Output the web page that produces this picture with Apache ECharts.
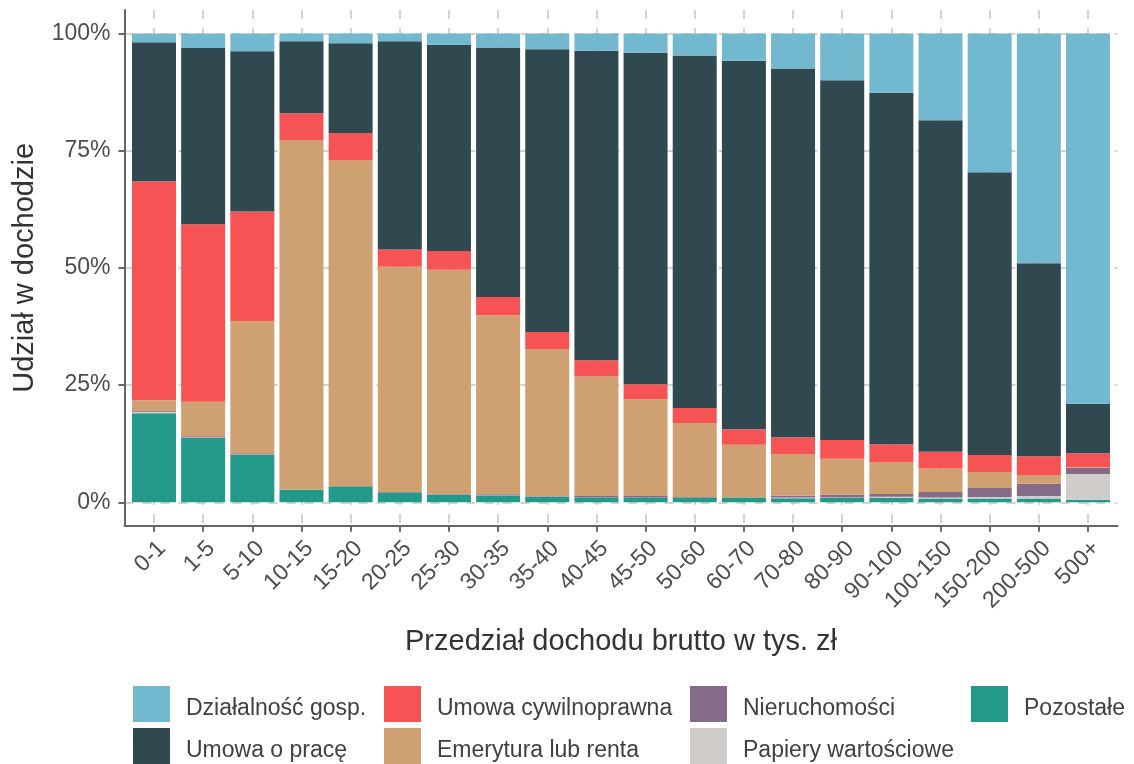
<!DOCTYPE html>
<html>
<head>
<meta charset="utf-8">
<script src="https://cdn.jsdelivr.net/npm/echarts@6/dist/echarts.min.js"></script>
<style>
html,body{margin:0;padding:0;background:#fff;}
#chart{width:1134px;height:764px;}
</style>
</head>
<body>
<div id="chart"></div>
<script>
const categories = ['0-1','1-5','5-10','10-15','15-20','20-25','25-30','30-35','35-40','40-45','45-50','50-60','60-70','70-80','80-90','90-100','100-150','150-200','200-500','500+'];
const yTickValues = [0, 25, 50, 75, 100];

const dzialalnosc   = [1.9,3.1,3.8,1.65,2.1,1.65,2.4,3.0,3.35,3.7,4.1,4.7,5.85,7.5,10.0,12.65,18.5,29.6,49.0,79.0];
const umowaOPrace   = [29.6,37.6,34.2,15.35,19.15,44.45,44.0,53.2,60.35,66.0,70.7,75.2,78.55,78.6,76.7,74.95,70.7,60.3,41.2,10.55];
const cywilnoprawna = [46.75,37.85,23.35,5.75,5.85,3.65,4.0,3.9,3.6,3.45,3.2,3.2,3.3,3.6,4.0,3.8,3.6,3.65,4.0,2.95];
const emerytura     = [2.25,7.35,28.2,74.5,69.45,48.05,47.9,38.2,31.4,25.5,20.65,15.75,11.2,8.9,7.7,6.85,5.0,3.4,1.85,0.2];
const nieruchomosci = [0.2,0.3,0.25,0.05,0.05,0.1,0.1,0.25,0.1,0.3,0.3,0.15,0.1,0.35,0.55,0.55,1.15,1.9,2.6,1.25];
const papiery       = [0.3,0.1,0.1,0,0,0,0,0.05,0,0,0,0,0,0.2,0.15,0.3,0.25,0.35,0.55,5.5];
const pozostale     = [19.0,13.7,10.1,2.7,3.4,2.1,1.6,1.4,1.2,1.05,1.05,1.0,1.0,0.85,0.9,0.9,0.8,0.8,0.8,0.55];

const seriesDefs = [
  {name:'Pozostałe', data:pozostale, color:'#23998a'},
  {name:'Papiery wartościowe', data:papiery, color:'#d0ccc9'},
  {name:'Nieruchomości', data:nieruchomosci, color:'#846b87'},
  {name:'Emerytura lub renta', data:emerytura, color:'#cfa071'},
  {name:'Umowa cywilnoprawna', data:cywilnoprawna, color:'#f55354'},
  {name:'Umowa o pracę', data:umowaOPrace, color:'#30484f'},
  {name:'Działalność gosp.', data:dzialalnosc, color:'#72b9cf'}
];

const FONT = "'Liberation Sans', Arial, sans-serif";
const axisColor = '#666666';
const gridColor = '#c9c9c9';
const catIdx = categories.map((c,i)=>i);

const legendBase = {
  orient:'vertical', top:686, itemWidth:37, itemHeight:36, itemGap:6, icon:'rect',
  padding:0, selectedMode:false, height:79,
  formatter:'{t|{name}}',
  textStyle:{fontFamily:FONT, fontSize:23, color:'#404040',
    rich:{t:{fontFamily:FONT, fontSize:23, color:'#404040', padding:[10,0,0,11]}}}
};

const chart = echarts.init(document.getElementById('chart'), null, {renderer:'canvas'});
chart.setOption({
  animation:false,
  backgroundColor:'#ffffff',
  grid:{left:124.5, right:16.5, top:10, bottom:238.25, containLabel:false},
  legend:[
    Object.assign({}, legendBase, {left:133, data:['Działalność gosp.','Umowa o pracę']}),
    Object.assign({}, legendBase, {left:384, data:['Umowa cywilnoprawna','Emerytura lub renta']}),
    Object.assign({}, legendBase, {left:690, data:['Nieruchomości','Papiery wartościowe']}),
    Object.assign({}, legendBase, {left:971, data:['Pozostałe']})
  ],
  xAxis:{
    type:'value', min:-0.6, max:19.6,
    name:'Przedział dochodu brutto w tys. zł', nameLocation:'middle', nameGap:102,
    nameTextStyle:{fontFamily:FONT, fontSize:29, color:'#333333'},
    axisLine:{show:true, onZero:false, lineStyle:{color:axisColor, width:2}},
    axisTick:{show:true, length:6, customValues:catIdx, lineStyle:{color:axisColor, width:2}},
    axisLabel:{show:true, customValues:catIdx, rotate:45, margin:11, verticalAlign:'top',
      fontFamily:FONT, fontSize:23, color:'#4d4d4d',
      formatter:(v)=>categories[Math.round(v)]},
    splitLine:{show:true, lineStyle:{color:gridColor, width:1.6, type:[9,9]}}
  },
  yAxis:{
    type:'value', min:-5, max:105,
    name:'Udział w dochodzie', nameLocation:'middle', nameGap:85,
    nameTextStyle:{fontFamily:FONT, fontSize:29, color:'#333333'},
    axisLine:{show:true, onZero:false, lineStyle:{color:axisColor, width:2}},
    axisTick:{show:true, length:6, customValues:yTickValues, lineStyle:{color:axisColor, width:2}},
    axisLabel:{show:true, customValues:yTickValues, margin:14,
      fontFamily:FONT, fontSize:23, color:'#4d4d4d', formatter:'{value}%'},
    splitLine:{show:true, lineStyle:{color:gridColor, width:1.6, type:[9,9]}}
  },
  series: seriesDefs.map(s=>({
    name:s.name, type:'bar', stack:'total', barWidth:44,
    itemStyle:{color:s.color},
    emphasis:{disabled:true},
    encode:{x:1, y:0},
    data:s.data.map((v,i)=>[v,i])
  }))
});
</script>
</body>
</html>
